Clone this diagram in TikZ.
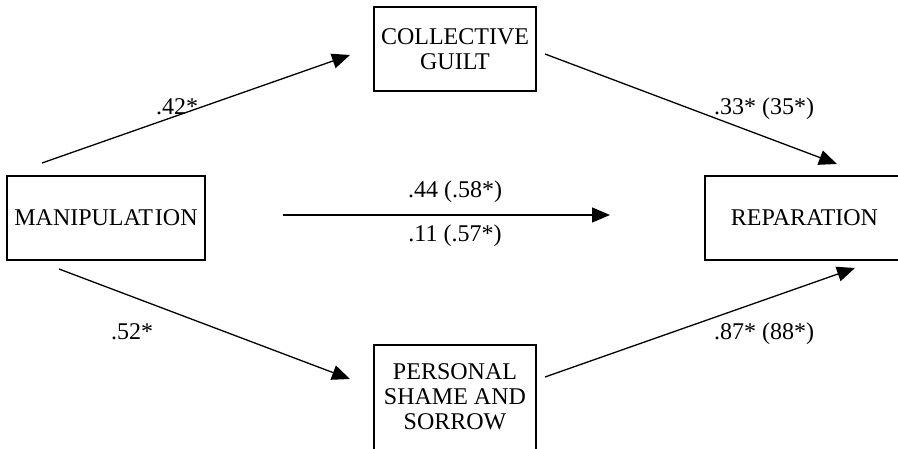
\documentclass[tikz,border=0pt]{standalone}
\usepackage{fontspec}
\setmainfont{Liberation Serif}
\usetikzlibrary{arrows.meta}
\begin{document}
\begin{tikzpicture}[x=1pt,y=-1pt,
  font=\fontsize{24}{25}\selectfont,
  boxnode/.style={draw, line width=1.3pt, rectangle, inner sep=0pt, align=center},
  pathlabel/.style={inner sep=0pt, anchor=base},
  arr/.style={line width=1.3pt, -{Triangle[length=18pt,width=15pt]}}]
\useasboundingbox (0,0) rectangle (898,449);
\clip (0,0) rectangle (898,449);
\fill[white] (0,0) rectangle (898,449);
% boxes
\node[boxnode, minimum width=198pt, minimum height=84pt] (man) at (106,218) {MANIPULAT\kern2pt ION};
\node[boxnode, minimum width=162pt, minimum height=84pt] (cg) at (455,49) {COLLECTIVE\\GUILT};
\node[boxnode, minimum width=162pt, minimum height=110pt] (pss) at (455,400) {};
\node[inner sep=0pt, align=center] (psstext) at (455,396.5) {PERSONAL\\SHAME AND\\SORROW};
\node[boxnode, minimum width=199pt, minimum height=84pt] (rep) at (804.5,218) {REPARATION};
% arrow end points
\coordinate (a1s) at (42,163);   \coordinate (a1e) at (350,55);
\coordinate (a2s) at (545,54);   \coordinate (a2e) at (837,164);
\coordinate (a3s) at (283,215);  \coordinate (a3e) at (610,215);
\coordinate (a4s) at (59,269);   \coordinate (a4e) at (350,379);
\coordinate (a5s) at (545,377);  \coordinate (a5e) at (855,268);
\draw[arr] (a1s) -- (a1e);
\draw[arr] (a2s) -- (a2e);
\draw[arr] (a3s) -- (a3e);
\draw[arr] (a4s) -- (a4e);
\draw[arr] (a5s) -- (a5e);
% labels
\node[pathlabel] (l1) at (177,115) {.42*};
\node[pathlabel] (l2) at (764,115) {.33* (35*)};
\node[pathlabel] (l3) at (455,198) {.44 (.58*)};
\node[pathlabel] (l4) at (455,242) {.11 (.57*)};
\node[pathlabel] (l5) at (132,340) {.52*};
\node[pathlabel] (l6) at (764,340) {.87* (88*)};
\end{tikzpicture}
\end{document}
